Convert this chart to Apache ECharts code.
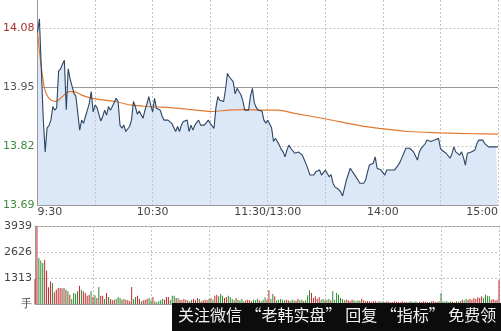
<!DOCTYPE html>
<html><head><meta charset="utf-8">
<script src="https://cdn.jsdelivr.net/npm/echarts@6/dist/echarts.min.js"></script>
<style>html,body{margin:0;padding:0;background:#fff}#c{width:501px;height:331px}</style>
</head><body><div id="c"></div>
<script>
const preClose = 13.95;
const priceTicks = [13.69, 13.82, 13.95, 14.08];
const timeTicks = [0, 60, 120, 180, 240];
const timeLabels = ['9:30', '10:30', '11:30/13:00', '14:00', '15:00'];
const volTicks = [0, 1313, 2626, 3939];
const price = [
14.07,14.10,13.99,13.88,13.807,13.86,13.865,13.877,13.907,13.899,
13.904,13.985,13.99,14.00,14.009,13.90,13.99,13.968,13.969,13.936,
13.93,13.929,13.855,13.877,13.87,13.885,13.899,13.914,13.94,13.895,
13.91,13.905,13.907,13.875,13.885,13.899,13.888,13.907,13.899,13.907,
13.91,13.925,13.918,13.866,13.859,13.866,13.852,13.852,13.863,13.877,
13.918,13.907,13.89,13.897,13.899,13.881,13.899,13.912,13.929,13.91,
13.895,13.925,13.903,13.90,13.899,13.885,13.877,13.877,13.877,13.877,
13.87,13.866,13.852,13.863,13.852,13.866,13.874,13.877,13.877,13.852,
13.866,13.855,13.866,13.872,13.877,13.866,13.866,13.866,13.866,13.877,
13.87,13.87,13.859,13.905,13.929,13.921,13.92,13.918,13.945,13.98,
13.972,13.968,13.962,13.935,13.947,13.94,13.933,13.92,13.899,13.899,
13.899,13.93,13.947,13.915,13.905,13.899,13.903,13.897,13.877,13.87,
13.877,13.877,13.86,13.83,13.837,13.83,13.822,13.813,13.807,13.796,
13.811,13.822,13.815,13.811,13.804,13.807,13.807,13.804,13.80,13.80,
13.78,13.769,13.756,13.756,13.756,13.763,13.767,13.767,13.756,13.752,
13.767,13.76,13.752,13.757,13.738,13.73,13.727,13.724,13.719,13.71,
13.708,13.745,13.745,13.771,13.774,13.758,13.755,13.745,13.738,13.738,
13.738,13.745,13.763,13.778,13.778,13.782,13.796,13.771,13.771,13.767,
13.763,13.756,13.767,13.767,13.767,13.767,13.767,13.767,13.778,13.785,
13.795,13.805,13.815,13.818,13.815,13.811,13.807,13.806,13.789,13.807,
13.815,13.818,13.825,13.833,13.833,13.83,13.83,13.833,13.835,13.837,
13.815,13.81,13.807,13.804,13.80,13.793,13.803,13.818,13.807,13.807,
13.80,13.807,13.795,13.778,13.804,13.807,13.807,13.807,13.811,13.826,
13.833,13.837,13.833,13.826,13.822,13.818,13.818,13.818,13.818,13.818,
13.818
];
const avgMinutes = [0,1,3.5,6,9.5,13,16.5,19,23,28.5,40.5,49,58.5,74,91,100,108,117,125,134,151,168,178,193,210,227,240];
const avgPrice = [14.07,14.03,13.95,13.925,13.918,13.929,13.94,13.94,13.932,13.925,13.918,13.91,13.907,13.903,13.896,13.899,13.90,13.899,13.899,13.892,13.879,13.865,13.859,13.852,13.849,13.847,13.846];
const volume = [
1260,3915,2318,2200,2066,2234,1680,840,1142,1058,
588,722,806,806,790,823,722,638,470,252,
554,520,638,924,722,638,554,420,470,638,
352,436,302,857,420,420,252,554,352,252,
185,218,252,352,302,218,252,218,185,134,
857,252,352,420,252,134,185,218,252,302,
185,352,134,84,134,185,252,218,352,352,
185,420,420,302,
300,218,185,252,218,185,134,
218,252,185,302,252,134,185,218,185,252,
302,218,420,470,386,504,420,302,352,420,
352,252,185,302,218,185,252,134,185,218,
185,134,218,185,252,185,134,218,336,218,
690,252,504,386,185,218,252,218,185,218,
185,152,218,185,168,269,185,218,152,185,
437,690,554,302,386,269,336,218,252,185,
218,252,185,638,218,554,470,302,252,185,
218,185,152,218,185,134,185,168,269,185,
134,152,134,118,134,152,101,134,118,134,
101,134,118,84,101,134,118,101,84,134,
101,118,84,134,118,101,134,84,118,101,
134,118,101,84,134,152,118,101,134,554,
134,118,152,101,134,118,84,134,118,152,
218,185,252,218,269,218,302,252,336,302,
386,302,470,420,386,218,252,185,218,1226
];

const RED = '#c0282d', GREEN = '#2b8a2b';
const font = 'DejaVu Sans';
const chart = echarts.init(document.getElementById('c'), null, {renderer: 'canvas'});
const priceData = price.map((p, i) => [i, p]);
const avgData = avgMinutes.map((m, i) => [m, avgPrice[i]]);
const volData = volume.map((v, i) => ({
  value: [i, v],
  itemStyle: {color: (i === 0 ? price[0] >= preClose : price[i] >= price[i - 1]) ? RED : GREEN}
}));
const labelColor = v => v > preClose ? '#a8302c' : (v < preClose ? '#3f8a3f' : '#555');

chart.setOption({
  animation: false,
  textStyle: {fontFamily: font},
  grid: [
    {left: 35, right: 2, top: 0, height: 205},
    {left: 35, right: 2, top: 226, height: 78}
  ],
  xAxis: [
    {gridIndex: 0, type: 'value', min: 0, max: 240, interval: 30, z: 2,
      axisLine: {show: true, lineStyle: {color: '#9a9a9a'}}, axisTick: {show: false},
      splitLine: {show: true, lineStyle: {color: '#c4c4c4', type: [2, 2]}},
      axisLabel: {customValues: timeTicks, formatter: v => timeLabels[timeTicks.indexOf(v)] || '',
        color: '#444', fontSize: 11, fontFamily: font, margin: 2, alignMinLabel: 'left', alignMaxLabel: 'right'}},
    {gridIndex: 1, type: 'value', min: 0, max: 240, interval: 30, z: 2,
      axisLine: {show: true, lineStyle: {color: '#9a9a9a'}}, axisTick: {show: false},
      splitLine: {show: true, lineStyle: {color: '#c4c4c4', type: [2, 2]}},
      axisLabel: {show: false}},
    {gridIndex: 1, type: 'value', min: 0, max: 240, position: 'top',
      axisLine: {show: true, lineStyle: {color: '#9a9a9a'}}, axisTick: {show: false},
      splitLine: {show: false}, axisLabel: {show: false}}
  ],
  yAxis: [
    {gridIndex: 0, type: 'value', min: 13.69, max: 14.1417, z: 2,
      axisLine: {show: true, lineStyle: {color: '#9a9a9a'}}, axisTick: {show: false},
      splitLine: {show: false},
      axisLabel: {customValues: priceTicks, formatter: v => v.toFixed(2), margin: 3,
        fontSize: 11, fontFamily: font, color: v => labelColor(v)}},
    {gridIndex: 1, type: 'value', min: 0, max: 3939, interval: 1313, z: 2,
      axisLine: {show: true, lineStyle: {color: '#9a9a9a'}}, axisTick: {show: false},
      splitLine: {show: true, lineStyle: {color: '#c4c4c4', type: [2, 2]}},
      axisLabel: {formatter: v => v === 0 ? '手' : String(v), margin: 3, fontSize: 11,
        fontFamily: font, color: '#444'}}
  ],
  series: [
    {type: 'line', xAxisIndex: 0, yAxisIndex: 0, data: priceData, z: 1, showSymbol: false,
      lineStyle: {width: 0}, areaStyle: {color: '#dce8f8', opacity: 1, origin: 'start'}, silent: true,
      markLine: {silent: true, symbol: 'none', label: {show: false}, z: 1,
        data: [
          {yAxis: priceTicks[3], lineStyle: {color: '#c4c4c4', type: [2, 2], width: 1}},
          {yAxis: priceTicks[1], lineStyle: {color: '#c4c4c4', type: [2, 2], width: 1}},
          {yAxis: preClose, lineStyle: {color: '#9a9a9a', type: 'solid', width: 1}}
        ]}},
    {type: 'line', xAxisIndex: 0, yAxisIndex: 0, data: avgData, z: 3, showSymbol: false, smooth: 0.3,
      lineStyle: {color: '#e2782e', width: 1.2}},
    {type: 'line', xAxisIndex: 0, yAxisIndex: 0, data: priceData, z: 4, showSymbol: false,
      lineStyle: {color: '#2e4563', width: 1.1}},
    {type: 'bar', xAxisIndex: 1, yAxisIndex: 1, data: volData, barWidth: 1, z: 3}
  ],
  graphic: [
    {type: 'rect', left: 172, top: 303, shape: {width: 329, height: 28}, style: {fill: '#0c0c0c'}, z: 100},
    {type: 'text', left: 178, top: 307, z: 101,
      style: {text: '关注微信 “老韩实盘” 回复 “指标” 免费领', fill: '#f2f2f2',
        font: '16px "Noto Sans CJK SC"'}}
  ]
});
</script></body></html>
